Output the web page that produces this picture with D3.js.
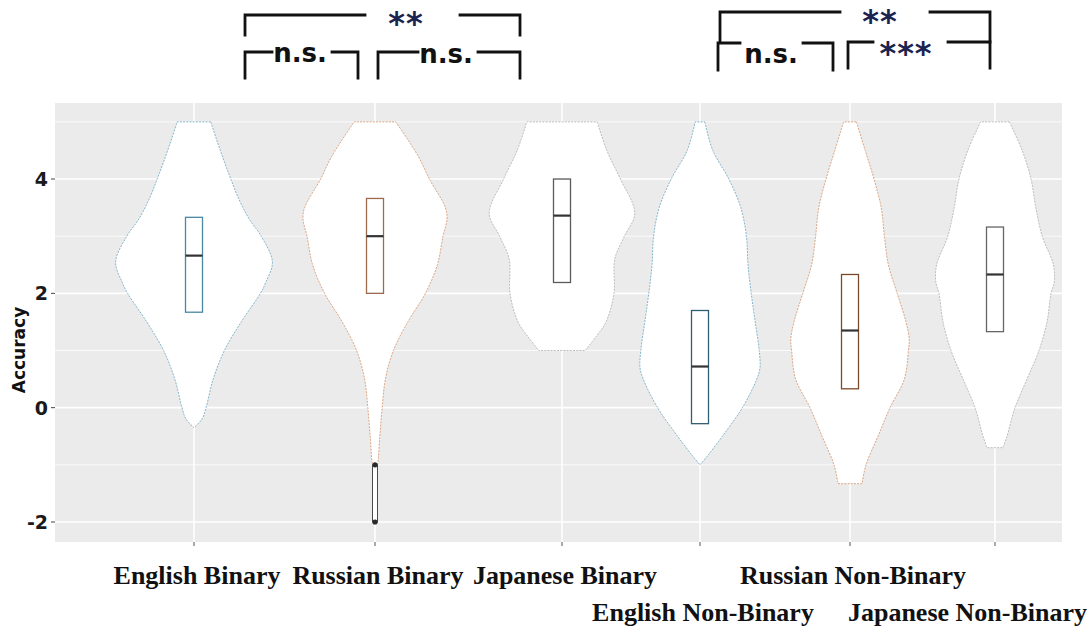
<!DOCTYPE html>
<html>
<head>
<meta charset="utf-8">
<script src="https://cdn.jsdelivr.net/npm/d3@7"></script>
<style>
  body { margin: 0; background: #fff; }
</style>
</head>
<body>
<svg id="chart" width="1091" height="630"></svg>
<script>
// ---- data -------------------------------------------------------------
const categories = [
  "English Binary", "Russian Binary", "Japanese Binary",
  "English Non-Binary", "Russian Non-Binary", "Japanese Non-Binary"
];
const language = ["English", "Russian", "Japanese", "English", "Russian", "Japanese"];
const labelRow = [0, 0, 0, 1, 0, 1];

// box summaries (Accuracy)
const boxQ1     = [1.67, 2.00, 2.19, -0.28, 0.33, 1.33];
const boxMedian = [2.66, 3.00, 3.36,  0.72, 1.35, 2.33];
const boxQ3     = [3.33, 3.66, 4.00,  1.70, 2.33, 3.16];

// kernel density profiles: [accuracy, relative density]
const densityEnglishBinary = [[5,0.21],[4.7,0.28],[4.3,0.38],[4,0.46],[3.65,0.56],[3.3,0.69],[3,0.84],[2.55,0.98],[2.2,0.90],[2,0.83],[1.5,0.59],[1,0.38],[0.5,0.24],[0,0.15],[-0.2,0.10],[-0.35,0]];
const densityRussianBinary = [[5,0.26],[4.4,0.54],[4,0.68],[3.5,0.88],[3.3,0.90],[3,0.85],[2.5,0.78],[2,0.63],[1.5,0.41],[1,0.23],[0.5,0.13],[0,0.09],[-0.5,0.06],[-1,0.03],[-1.1,0]];
const densityJapaneseBinary = [[5,0.44],[4.5,0.56],[4,0.73],[3.4,0.91],[3,0.78],[2.6,0.66],[2,0.65],[1.5,0.55],[1.25,0.43],[1,0.29]];
const densityEnglishNonBinary = [[5,0.06],[4.5,0.16],[4,0.36],[3.5,0.51],[3,0.58],[2.5,0.60],[2,0.64],[1.5,0.69],[1,0.74],[0.7,0.75],[0.5,0.71],[0,0.53],[-0.5,0.28],[-0.85,0.09],[-1,0]];
const densityRussianNonBinary = [[5,0.08],[4.5,0.19],[4,0.30],[3.5,0.39],[3,0.43],[2.5,0.48],[2,0.59],[1.5,0.70],[1.2,0.74],[1,0.73],[0.5,0.68],[0,0.50],[-0.5,0.35],[-1,0.20],[-1.33,0.15]];
const densityJapaneseNonBinary = [[5,0.18],[4.5,0.34],[4,0.45],[3.5,0.51],[3,0.59],[2.5,0.73],[2.2,0.74],[2,0.70],[1.5,0.65],[1,0.55],[0.5,0.40],[0,0.25],[-0.5,0.15],[-0.7,0.10]];
const densities = [densityEnglishBinary, densityRussianBinary, densityJapaneseBinary,
                   densityEnglishNonBinary, densityRussianNonBinary, densityJapaneseNonBinary];

// thin lower tail of Russian Binary with its extreme points
const russianTail = [-1, -2];

const yTicks = [-2, 0, 2, 4];
const yMinor = [-1, 1, 3, 5];

// pairwise comparisons
const comparisons = [
  { a: "English Binary",     b: "Japanese Binary",     label: "**"  },
  { a: "English Binary",     b: "Russian Binary",      label: "n.s." },
  { a: "Russian Binary",     b: "Japanese Binary",     label: "n.s." },
  { a: "English Non-Binary", b: "Japanese Non-Binary", label: "**"  },
  { a: "English Non-Binary", b: "Russian Non-Binary",  label: "n.s." },
  { a: "Russian Non-Binary", b: "Japanese Non-Binary", label: "***" }
];

// ---- layout -----------------------------------------------------------
const W = 1091, H = 630;
const panel = { left: 55, right: 1062, top: 103, bottom: 542 };
const svg = d3.select("#chart");

svg.append("rect").attr("width", W).attr("height", H).attr("fill", "#fff");

const x = d3.scaleOrdinal()
  .domain(categories)
  .range([194, 375, 562, 700, 850, 995]);

const y = d3.scaleLinear().domain([-2.35, 5.33]).range([panel.bottom, panel.top]);
const halfWidth = d3.scaleLinear().domain([0, 1]).range([0, 80]);

const outline = { English: "#86b6cc", Russian: "#dba684", Japanese: "#bdbdbd" };
const boxStroke = ["#4a87a3", "#9c6b4e", "#5a5a5a", "#2f5f72", "#7a4a2c", "#666666"];

// panel background + grid
svg.append("rect")
  .attr("x", panel.left).attr("y", panel.top)
  .attr("width", panel.right - panel.left).attr("height", panel.bottom - panel.top)
  .attr("fill", "#ebebeb");

const grid = svg.append("g");
grid.selectAll("line.minor").data(yMinor).join("line")
  .attr("x1", panel.left).attr("x2", panel.right)
  .attr("y1", d => y(d)).attr("y2", d => y(d))
  .attr("stroke", "#fff").attr("stroke-width", 0.8);
grid.selectAll("line.major").data(yTicks).join("line")
  .attr("x1", panel.left).attr("x2", panel.right)
  .attr("y1", d => y(d)).attr("y2", d => y(d))
  .attr("stroke", "#fff").attr("stroke-width", 1.6);
grid.selectAll("line.vert").data(categories).join("line")
  .attr("x1", d => x(d)).attr("x2", d => x(d))
  .attr("y1", panel.top).attr("y2", panel.bottom)
  .attr("stroke", "#fff").attr("stroke-width", 1.6);

// violins
const violin = svg.append("g");
categories.forEach((cat, i) => {
  const cx = x(cat);
  const area = d3.area()
    .y(d => y(d[0]))
    .x0(d => cx - halfWidth(d[1]))
    .x1(d => cx + halfWidth(d[1]))
    .curve(d3.curveCatmullRom.alpha(0.5));
  violin.append("path")
    .attr("d", area(densities[i]))
    .attr("fill", "#fff")
    .attr("stroke", outline[language[i]])
    .attr("stroke-width", 1)
    .attr("stroke-dasharray", "2,1.2");
});

// Russian Binary tail
{
  const cx = x("Russian Binary");
  violin.append("rect")
    .attr("x", cx - 2.5).attr("width", 5)
    .attr("y", y(russianTail[0])).attr("height", y(russianTail[1]) - y(russianTail[0]))
    .attr("fill", "#fff").attr("stroke", "#4a4a4a").attr("stroke-width", 1);
  violin.selectAll("circle.tail").data(russianTail).join("circle")
    .attr("cx", cx).attr("cy", d => y(d)).attr("r", 2.6).attr("fill", "#2a2a2a");
}

// boxes
const boxW = 17;
const boxes = svg.append("g");
categories.forEach((cat, i) => {
  const cx = x(cat);
  boxes.append("rect")
    .attr("x", cx - boxW / 2).attr("width", boxW)
    .attr("y", y(boxQ3[i])).attr("height", y(boxQ1[i]) - y(boxQ3[i]))
    .attr("fill", "#fff").attr("stroke", boxStroke[i]).attr("stroke-width", 1.3);
  boxes.append("line")
    .attr("x1", cx - boxW / 2).attr("x2", cx + boxW / 2)
    .attr("y1", y(boxMedian[i])).attr("y2", y(boxMedian[i]))
    .attr("stroke", "#333").attr("stroke-width", 2.2);
});

// y axis
const yAxis = svg.append("g");
yAxis.selectAll("line").data(yTicks).join("line")
  .attr("x1", panel.left - 4).attr("x2", panel.left)
  .attr("y1", d => y(d)).attr("y2", d => y(d))
  .attr("stroke", "#444").attr("stroke-width", 1);
yAxis.selectAll("text").data(yTicks).join("text")
  .attr("x", panel.left - 7).attr("y", d => y(d))
  .attr("dy", "0.36em")
  .attr("text-anchor", "end")
  .attr("font-family", "DejaVu Sans, sans-serif")
  .attr("font-weight", "bold").attr("font-size", 19)
  .attr("fill", "#1a1a1a")
  .text(d => d);
svg.append("text")
  .attr("transform", `translate(25,350) rotate(-90)`)
  .attr("text-anchor", "middle")
  .attr("font-family", "DejaVu Sans, sans-serif")
  .attr("font-weight", "bold").attr("font-size", 17)
  .attr("fill", "#111")
  .text("Accuracy");

// x axis ticks + labels
svg.append("g").selectAll("line").data(categories).join("line")
  .attr("x1", d => x(d)).attr("x2", d => x(d))
  .attr("y1", panel.bottom).attr("y2", panel.bottom + 4)
  .attr("stroke", "#555").attr("stroke-width", 1);

const rowBaseline = [584, 621];
const xLabels = svg.append("g");
categories.forEach((cat, i) => {
  const t = xLabels.append("text")
    .attr("y", rowBaseline[labelRow[i]])
    .attr("text-anchor", "middle")
    .attr("font-family", "Liberation Serif, Times New Roman, serif")
    .attr("font-weight", "bold").attr("font-size", 26)
    .attr("fill", "#111")
    .text(cat);
  const len = t.node().getComputedTextLength();
  const cx = Math.min(x(cat) + 3, W - 4 - len / 2);
  t.attr("x", cx);
});

// significance brackets
const bracketLayout = [
  { a: 51, b: -42, top: 15, foot: 35, gap: [365, 460], tx: 406, ty: 34 },
  { a: 51, b: -17, top: 52, foot: 78, gap: [272, 332], tx: 300, ty: 62 },
  { a: 3,  b: -42, top: 52, foot: 78, gap: [418, 478], tx: 446, ty: 63 },
  { a: 20, b: -5,  top: 12, foot: 42, gap: [840, 930], tx: 880, ty: 32 },
  { a: 18, b: -17, top: 43, foot: 70, gap: [740, 803], tx: 771, ty: 63 },
  { a: -2, b: -5,  top: 42, foot: 68, gap: [873, 948], tx: 906, ty: 64 }
];
const brackets = svg.append("g");
comparisons.forEach((c, i) => {
  const L = bracketLayout[i];
  const x0 = x(c.a) + L.a, x1 = x(c.b) + L.b;
  const path = `M${x0},${L.foot}V${L.top}H${L.gap[0]}M${L.gap[1]},${L.top}H${x1}V${L.foot}`;
  brackets.append("path")
    .attr("d", path).attr("fill", "none")
    .attr("stroke", "#111").attr("stroke-width", 2.8)
    .attr("stroke-linecap", "square");
  const isStars = c.label.startsWith("*");
  brackets.append("text")
    .attr("x", L.tx).attr("y", L.ty)
    .attr("text-anchor", "middle")
    .attr("font-family", "DejaVu Sans, sans-serif")
    .attr("font-weight", "bold")
    .attr("font-size", isStars ? 32 : 26)
    .attr("letter-spacing", isStars ? 1 : 0)
    .attr("fill", isStars ? "#1b2350" : "#111")
    .text(c.label);
});
</script>
</body>
</html>
